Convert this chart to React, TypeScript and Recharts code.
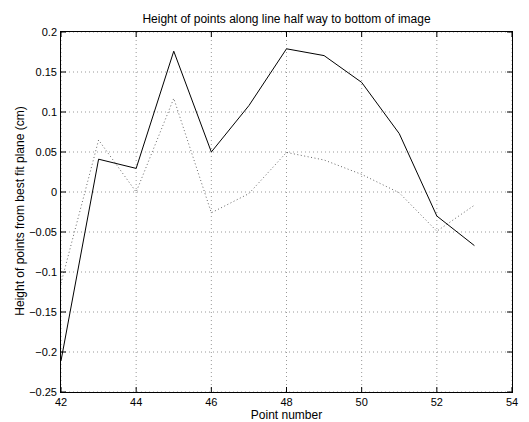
import { LineChart, Line, XAxis, YAxis, CartesianGrid } from "recharts";

const FONT = '"Liberation Sans", Arial, Helvetica, sans-serif';

// point index along the line
const points = [42, 43, 44, 45, 46, 47, 48, 49, 50, 51, 52, 53];
// height above/below best-fit plane (cm), solid trace
const solidHeights = [-0.211, 0.041, 0.0295, 0.176, 0.05, 0.108, 0.179, 0.1705, 0.137, 0.073, -0.03, -0.067];
// dotted trace
const dottedHeights = [-0.114, 0.065, 0.0, 0.117, -0.026, -0.002, 0.0495, 0.04, 0.022, -0.001, -0.049, -0.0165];

const xTicks = [42, 44, 46, 48, 50, 52, 54];
const yTicks = [-0.25, -0.2, -0.15, -0.1, -0.05, 0, 0.05, 0.1, 0.15, 0.2];

const data = points.map((p, i) => ({ point: p, solid: solidHeights[i], dotted: dottedHeights[i] }));

const W = 529;
const H = 422;
const MARGIN = { top: 32, right: 17, bottom: 0, left: 11 };
const Y_AXIS_W = 50;
const X_AXIS_H = 30;
// plot box size, used for the frame and to mirror ticks onto the top/right edges
const PLOT_X = MARGIN.left + Y_AXIS_W;
const PLOT_Y = MARGIN.top;
const PLOT_W = W - MARGIN.left - MARGIN.right - Y_AXIS_W;
const PLOT_H = H - MARGIN.top - MARGIN.bottom - X_AXIS_H;

const fmtY = (v: number) => {
  const s = String(Number(Math.abs(v).toFixed(2)));
  return v < 0 ? "\u2212" + s : s;
};

const TICK_LEN = 5;

const BottomTick = (props: any) => {
  const { x, y, payload } = props;
  const top = y - PLOT_H;
  return (
    <g>
      <line x1={x} y1={y} x2={x} y2={y - TICK_LEN} stroke="#000" />
      <line x1={x} y1={top} x2={x} y2={top + TICK_LEN} stroke="#000" />
      <text x={x} y={y + 14} textAnchor="middle" fontSize={11} fontFamily={FONT} fill="#000">
        {payload.value}
      </text>
    </g>
  );
};

const LeftTick = (props: any) => {
  const { x, y, payload } = props;
  const right = x + PLOT_W;
  return (
    <g>
      <line x1={x} y1={y} x2={x + TICK_LEN} y2={y} stroke="#000" />
      <line x1={right} y1={y} x2={right - TICK_LEN} y2={y} stroke="#000" />
      <text x={x - 4} y={y + 4} textAnchor="end" fontSize={11} fontFamily={FONT} fill="#000">
        {fmtY(payload.value)}
      </text>
    </g>
  );
};

const textStyle: React.CSSProperties = {
  position: "absolute",
  fontFamily: FONT,
  fontSize: 12,
  color: "#000",
  whiteSpace: "nowrap",
  lineHeight: "14px",
};

export default function App() {
  return (
    <div style={{ position: "absolute", left: 0, top: 0, width: W, height: H, background: "#fff" }}>
      <LineChart width={W} height={H} data={data} margin={MARGIN}>
        <CartesianGrid stroke="#999" strokeDasharray="1 3" />
        <XAxis
          dataKey="point"
          type="number"
          domain={[42, 54]}
          ticks={xTicks}
          allowDataOverflow
          height={X_AXIS_H}
          tickSize={0}
          tickMargin={0}
          tickLine={false}
          axisLine={false}
          tick={BottomTick}
        />
        <YAxis
          type="number"
          domain={[-0.25, 0.2]}
          ticks={yTicks}
          allowDataOverflow
          width={Y_AXIS_W}
          tickSize={0}
          tickMargin={0}
          tickLine={false}
          axisLine={false}
          tick={LeftTick}
        />
        <Line
          dataKey="dotted"
          stroke="#666"
          strokeWidth={1}
          strokeDasharray="1 2.5"
          dot={false}
          activeDot={false}
          isAnimationActive={false}
        />
        <Line
          dataKey="solid"
          stroke="#000"
          strokeWidth={1}
          dot={false}
          activeDot={false}
          isAnimationActive={false}
        />
      </LineChart>
      {/* axes box */}
      <div
        style={{
          position: "absolute",
          left: PLOT_X - 0.75,
          top: PLOT_Y - 0.75,
          width: PLOT_W + 1.5,
          height: PLOT_H + 1.5,
          border: "1.5px solid #000",
          boxSizing: "border-box",
          pointerEvents: "none",
        }}
      />
      <div style={{ ...textStyle, left: 0, width: 573, top: 12, textAlign: "center" }}>
        Height of points along line half way to bottom of image
      </div>
      <div style={{ ...textStyle, left: 0, width: 573, top: 408, textAlign: "center" }}>Point number</div>
      <div
        style={{
          ...textStyle,
          left: 20,
          top: 211,
          transform: "translate(-50%, -50%) rotate(-90deg)",
        }}
      >
        Height of points from best fit plane (cm)
      </div>
    </div>
  );
}
